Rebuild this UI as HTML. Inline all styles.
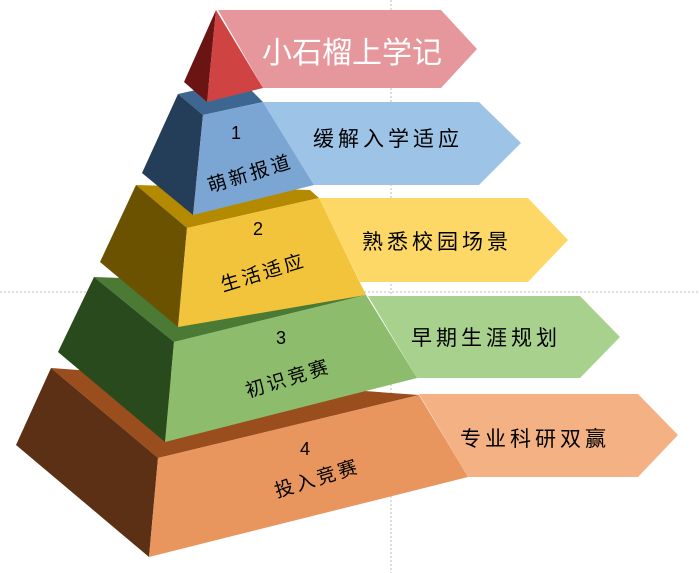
<!DOCTYPE html>
<html><head><meta charset="utf-8"><style>
html,body{margin:0;padding:0;background:#fff;width:699px;height:573px;overflow:hidden}
text{font-family:"Liberation Sans","Noto Sans CJK SC",sans-serif}
</style></head><body>
<svg width="699" height="573" viewBox="0 0 699 573" xmlns="http://www.w3.org/2000/svg">
<line x1="391" y1="0" x2="391" y2="573" stroke="#bbb" stroke-width="1" stroke-dasharray="2,2"/>
<line x1="0" y1="292" x2="699" y2="292" stroke="#bbb" stroke-width="1" stroke-dasharray="2,2"/>
<!-- arrows -->
<polygon points="218,10 441,10 477,49 441,88 263,88" fill="#e5979b"/>
<polygon points="263,102 479,102 521,143 479,185 314,185" fill="#9dc3e6"/>
<polygon points="319,198 528,198 568,240 528,282 360,282" fill="#fdd866"/>
<polygon points="368,296 580,296 620,337 580,378 417,378" fill="#a8d18e"/>
<polygon points="419,394 638,394 678,435 638,477 468,477" fill="#f4b183"/>
<!-- brown -->
<polygon points="51,368 419,395 158,458" fill="#9a4e1e"/>
<polygon points="51,368 158,458 149,557 16,445" fill="#5c3015"/>
<polygon points="158,458 419,395 468,477 149,557" fill="#e8955e"/>
<!-- green -->
<polygon points="94,277 361,287 366,295 174,342" fill="#4a7a34"/>
<polygon points="94,277 174,342 165,442 58,352" fill="#284a1c"/>
<polygon points="174,342 366,295 417,378 165,442" fill="#8cbc6c"/>
<!-- yellow -->
<polygon points="136,185 310,190 319,198 187,228" fill="#b38a00"/>
<polygon points="136,185 187,228 178,327 100,262" fill="#6b5200"/>
<polygon points="187,228 319,198 366,295 178,327" fill="#f2c43c"/>
<!-- blue -->
<polygon points="178,94 241,80 263,102 203,115" fill="#3d6690"/>
<polygon points="178,94 203,115 193,215 142,173" fill="#243e5a"/>
<polygon points="203,115 263,102 314,185 193,215" fill="#7ba6d4"/>
<!-- red -->
<polygon points="216,10 184,82 207,102" fill="#6b1414"/>
<polygon points="216,10 207,102 263,88" fill="#d04343"/>
<!-- texts -->
<text x="352" y="63" font-size="30" fill="#fff" text-anchor="middle">小石榴上学记</text>
<text x="388" y="146" font-size="21" fill="#000" text-anchor="middle" letter-spacing="4">缓解入学适应</text>
<text x="437" y="249" font-size="21" fill="#000" text-anchor="middle" letter-spacing="4">熟悉校园场景</text>
<text x="486" y="345" font-size="21" fill="#000" text-anchor="middle" letter-spacing="4">早期生涯规划</text>
<text x="535" y="446" font-size="21" fill="#000" text-anchor="middle" letter-spacing="4">专业科研双赢</text>
<text x="236" y="139" font-size="18" fill="#000" text-anchor="middle">1</text>
<text x="258" y="235" font-size="18" fill="#000" text-anchor="middle">2</text>
<text x="281" y="344" font-size="18" fill="#000" text-anchor="middle">3</text>
<text x="305" y="455" font-size="18" fill="#000" text-anchor="middle">4</text>
<text x="250" y="180" font-size="19" fill="#000" text-anchor="middle" letter-spacing="3" transform="rotate(-17 250 173)">萌新报道</text>
<text x="263" y="279" font-size="19" fill="#000" text-anchor="middle" letter-spacing="3" transform="rotate(-17 263 272)">生活适应</text>
<text x="288" y="385" font-size="19" fill="#000" text-anchor="middle" letter-spacing="3" transform="rotate(-17 288 378)">初识竞赛</text>
<text x="317" y="485" font-size="19" fill="#000" text-anchor="middle" letter-spacing="3" transform="rotate(-17 317 478)">投入竞赛</text>
</svg>
</body></html>
